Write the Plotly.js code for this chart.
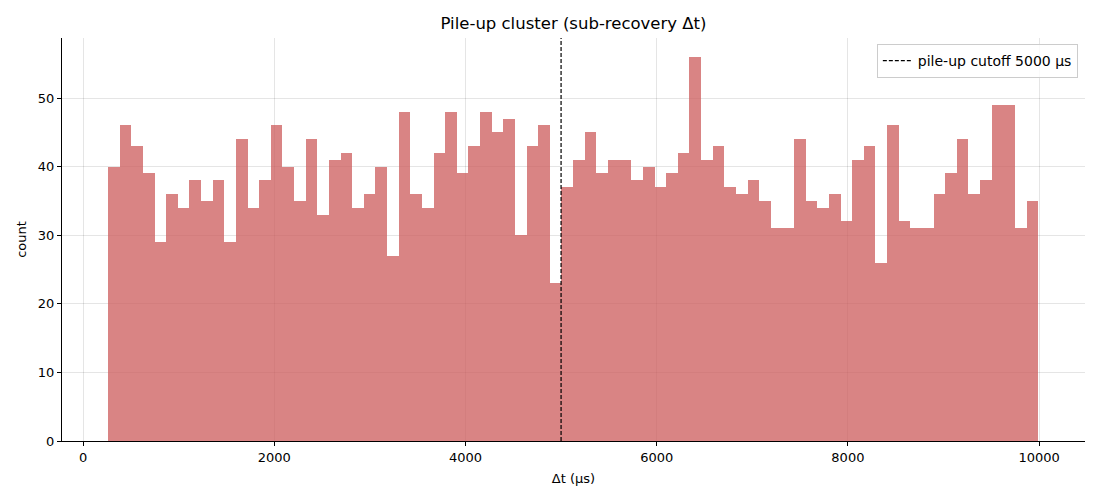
<!DOCTYPE html>
<html>
<head>
<meta charset="utf-8">
<script src="https://cdn.plot.ly/plotly-3.0.1.min.js"></script>
<style>
  html, body { margin: 0; padding: 0; background: #fff; }
  #chart { width: 1100px; height: 500px; }
</style>
</head>
<body>
<div id="chart"></div>
<script>
// Histogram of sub-recovery Δt, 80 bins
const BIN_START = 262;
const BIN_WIDTH = 121.6;
const COUNTS = [
    40, 46, 43, 39, 29, 36, 34, 38, 35, 38,
    29, 44, 34, 38, 46, 40, 35, 44, 33, 41,
    42, 34, 36, 40, 27, 48, 36, 34, 42, 48,
    39, 43, 48, 45, 47, 30, 43, 46, 23, 37,
    41, 45, 39, 41, 41, 38, 40, 37, 39, 42,
    56, 41, 43, 37, 36, 38, 35, 31, 31, 44,
    35, 34, 36, 32, 41, 43, 26, 46, 32, 31,
    31, 36, 39, 44, 36, 38, 49, 49, 31, 35
];
const CUTOFF = 5000;
const CUTOFF_LABEL = 'pile-up cutoff 5000 µs';
const X_TICKS = [0, 2000, 4000, 6000, 8000, 10000];
const X_TICK_TEXT = ['0', '2000', '4000', '6000', '8000', '10000'];
const Y_TICKS = [0, 10, 20, 30, 40, 50];

const FONT = 'DejaVu Sans, sans-serif';
const centers = COUNTS.map((_, i) => BIN_START + (i + 0.5) * BIN_WIDTH);

const bars = {
    type: 'bar',
    x: centers,
    y: COUNTS,
    width: BIN_WIDTH,
    marker: { color: 'indianred', line: { width: 0 } },
    opacity: 0.75,
    showlegend: false,
    hoverinfo: 'x+y'
};

// dashed cutoff line as a trace so it shows in the legend
const cutoff = {
    type: 'scatter',
    mode: 'lines',
    x: [CUTOFF, CUTOFF],
    y: [0, 58.75],
    line: { color: 'black', width: 1.2, dash: '4px,2px' },
    name: CUTOFF_LABEL
};

const axisCommon = {
    showline: true, linecolor: 'black', linewidth: 1.2,
    ticks: 'outside', ticklen: 4, tickcolor: 'black',
    showgrid: true, gridcolor: 'rgba(0,0,0,0.1)', gridwidth: 1,
    zeroline: false, mirror: false,
    tickfont: { family: FONT, size: 13, color: 'black' }
};

const layout = {
    width: 1100, height: 500,
    margin: { t: 38, b: 59, l: 62, r: 15 },
    paper_bgcolor: 'white', plot_bgcolor: 'white',
    font: { family: FONT, color: 'black' },
    title: {
        text: 'Pile-up cluster (sub-recovery Δt)',
        font: { family: FONT, size: 16.5, color: 'black' },
        xref: 'paper', x: 0.5, xanchor: 'center',
        yref: 'container', y: 0.954, yanchor: 'middle'
    },
    bargap: 0,
    xaxis: Object.assign({}, axisCommon, {
        range: [-220, 10480],
        tickvals: X_TICKS,
        ticktext: X_TICK_TEXT,
        title: { text: 'Δt (µs)', font: { family: FONT, size: 13, color: 'black' }, standoff: 10 }
    }),
    yaxis: Object.assign({}, axisCommon, {
        range: [0, 58.75],
        tickvals: Y_TICKS,
        title: { text: 'count', font: { family: FONT, size: 13, color: 'black' }, standoff: 8 }
    }),
    legend: {
        x: 0.993, xanchor: 'right', y: 0.985, yanchor: 'top',
        bgcolor: 'rgba(255,255,255,0.8)', bordercolor: '#cccccc', borderwidth: 1,
        font: { family: FONT, size: 14, color: 'black' }
    }
};

Plotly.newPlot('chart', [bars, cutoff], layout, { displayModeBar: false, staticPlot: true });
</script>
</body>
</html>
